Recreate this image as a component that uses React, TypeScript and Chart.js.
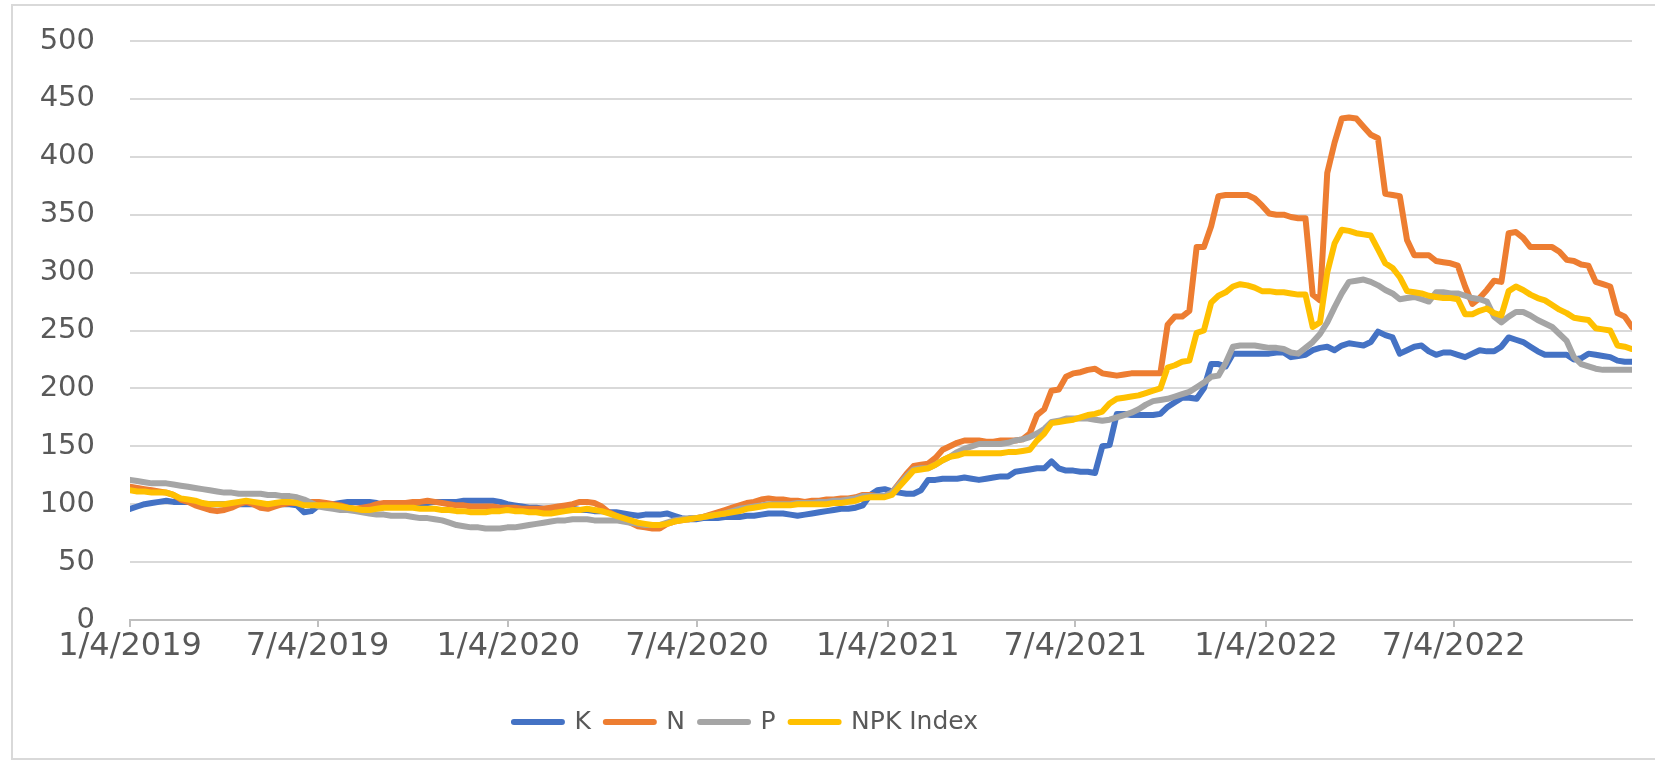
import React, { useEffect, useRef } from 'react';
import { Chart, registerables } from 'chart.js';

Chart.register(...registerables);

// ---- data ----
const seriesNames = ['K', 'N', 'P', 'NPK Index'];
const seriesColors = ['#4472C4', '#ED7D31', '#A5A5A5', '#FFC000'];
const startDate = '1/4/2019';
const tickLabels = ['1/4/2019', '7/4/2019', '1/4/2020', '7/4/2020', '1/4/2021', '7/4/2021', '1/4/2022', '7/4/2022'];
const yMin = 0;
const yMax = 500;
const yStep = 50;

// weekly observations, first week = 1/4/2019
const kValues = [
  96, 98, 100, 101, 102, 103, 102, 102, 102, 101,
  100, 100, 100, 100, 100, 100, 100, 100, 100, 100,
  100, 100, 100, 99, 93, 94, 99, 100, 100, 101,
  102, 102, 102, 102, 101, 99, 100, 100, 100, 100,
  101, 101, 102, 102, 102, 102, 103, 103, 103, 103,
  103, 102, 100, 99, 98, 97, 97, 96, 96, 96,
  96, 96, 95, 95, 94, 94, 93, 93, 92, 91,
  90, 91, 91, 91, 92, 90, 88, 87, 87, 88,
  88, 88, 89, 89, 89, 90, 90, 91, 92, 92,
  92, 91, 90, 91, 92, 93, 94, 95, 96, 96,
  97, 99, 108, 112, 113, 111, 110, 109, 109, 112,
  121, 121, 122, 122, 122, 123, 122, 121, 122, 123,
  124, 124, 128, 129, 130, 131, 131, 137, 131, 129,
  129, 128, 128, 127, 150, 151, 178, 178, 177, 177,
  177, 177, 178, 184, 188, 192, 192, 191, 200, 221,
  221, 219, 230, 230, 230, 230, 230, 230, 231, 231,
  227, 228, 229, 233, 235, 236, 233, 237, 239, 238,
  237, 240, 249, 246, 244, 230, 233, 236, 237, 232,
  229, 231, 231, 229, 227, 230, 233, 232, 232, 236,
  244, 242, 240, 236, 232, 229, 229, 229, 229, 225,
  226, 230, 229, 228, 227, 224, 223, 223,
];

const nValues = [
  115, 114, 113, 112, 111, 110, 108, 104, 102, 99,
  97, 95, 94, 95, 97, 100, 102, 100, 97, 96,
  98, 100, 101, 101, 102, 102, 102, 101, 100, 99,
  97, 96, 97, 98, 100, 101, 101, 101, 101, 102,
  102, 103, 102, 101, 100, 99, 99, 98, 98, 98,
  98, 97, 97, 97, 96, 96, 96, 96, 97, 98,
  99, 100, 102, 102, 101, 98, 93, 90, 87, 84,
  81, 80, 79, 79, 83, 85, 86, 87, 88, 89,
  91, 93, 95, 97, 99, 101, 102, 104, 105, 104,
  104, 103, 103, 102, 103, 103, 104, 104, 105, 105,
  106, 108, 108, 107, 107, 110, 118, 126, 133, 134,
  135, 140, 147, 150, 153, 155, 155, 155, 154, 154,
  155, 155, 155, 156, 161, 177, 182, 198, 199, 210,
  213, 214, 216, 217, 213, 212, 211, 212, 213, 213,
  213, 213, 213, 255, 262, 262, 267, 322, 322, 340,
  366, 367, 367, 367, 367, 364, 358, 351, 350, 350,
  348, 347, 347, 281, 276, 386, 412, 433, 434, 433,
  426, 419, 416, 368, 367, 366, 328, 315, 315, 315,
  310, 309, 308, 306, 288, 273, 278, 285, 293, 292,
  334, 335, 330, 322, 322, 322, 322, 318, 311, 310,
  307, 306, 292, 290, 288, 265, 262, 253,
];

const pValues = [
  121, 120, 119, 118, 118, 118, 117, 116, 115, 114,
  113, 112, 111, 110, 110, 109, 109, 109, 109, 108,
  108, 107, 107, 106, 104, 101, 98, 97, 96, 95,
  95, 94, 93, 92, 91, 91, 90, 90, 90, 89,
  88, 88, 87, 86, 84, 82, 81, 80, 80, 79,
  79, 79, 80, 80, 81, 82, 83, 84, 85, 86,
  86, 87, 87, 87, 86, 86, 86, 86, 85, 84,
  83, 82, 82, 82, 84, 86, 87, 88, 88, 89,
  90, 91, 92, 94, 96, 97, 98, 99, 100, 100,
  100, 100, 101, 101, 101, 102, 102, 103, 103, 104,
  105, 107, 107, 107, 107, 110, 117, 124, 130, 131,
  131, 134, 138, 141, 145, 148, 150, 152, 152, 152,
  152, 153, 155, 156, 158, 161, 165, 171, 172, 174,
  174, 174, 174, 173, 172, 173, 175, 177, 179, 182,
  186, 189, 190, 191, 193, 195, 197, 201, 205, 210,
  211, 222, 236, 237, 237, 237, 236, 235, 235, 234,
  231, 230, 235, 240, 247, 257, 270, 282, 292, 293,
  294, 292, 289, 285, 282, 277, 278, 279, 277, 275,
  283, 283, 282, 282, 280, 278, 277, 275, 262, 257,
  262, 266, 266, 263, 259, 256, 253, 247, 241, 227,
  221, 219, 217, 216, 216, 216, 216, 216,
];

const npkValues = [
  112, 111, 111, 110, 110, 110, 108, 105, 104, 103,
  101, 100, 100, 100, 101, 102, 103, 102, 101, 100,
  101, 102, 102, 101, 99, 99, 99, 99, 99, 98,
  97, 96, 95, 95, 96, 97, 97, 97, 97, 97,
  96, 96, 96, 95, 95, 94, 94, 93, 93, 93,
  94, 94, 95, 94, 94, 93, 93, 92, 92, 93,
  94, 95, 95, 96, 95, 94, 92, 90, 88, 86,
  84, 83, 82, 82, 83, 85, 86, 87, 88, 89,
  90, 91, 92, 93, 94, 96, 97, 98, 99, 99,
  99, 99, 100, 100, 100, 100, 100, 101, 101, 102,
  103, 105, 106, 106, 106, 108, 115, 122, 129, 130,
  131, 134, 138, 141, 142, 144, 144, 144, 144, 144,
  144, 145, 145, 146, 147, 155, 161, 170, 171, 172,
  173, 175, 177, 178, 180, 187, 191, 192, 193, 194,
  196, 198, 200, 218, 220, 223, 224, 248, 250, 274,
  280, 283, 288, 290, 289, 287, 284, 284, 283, 283,
  282, 281, 281, 253, 257, 300, 325, 337, 336, 334,
  333, 332, 320, 308, 304, 296, 284, 283, 282, 280,
  279, 278, 278, 277, 264, 264, 267, 269, 265, 263,
  284, 288, 285, 281, 278, 276, 272, 268, 265, 261,
  260, 259, 252, 251, 250, 237, 236, 234,
];

const seriesValues = [kValues, nValues, pValues, npkValues];

// ---- helpers ----
const parseDay = (s: string) => {
  const [m, d, y] = s.split('/').map(Number);
  return Date.UTC(y, m - 1, d) / 86400000;
};
const day0 = parseDay(startDate);
const weekOffsets = kValues.map((_, i) => i * 7); // days since first week
const tickDays = tickLabels.map((s) => parseDay(s) - day0);
const labelForDay: Record<number, string> = {};
tickLabels.forEach((s, i) => (labelForDay[tickDays[i]] = s));

const W = 1655;
const H = 764;
const FONT = "'DejaVu Sans', 'Liberation Sans', sans-serif";
const TEXT = '#595959';

const legendShift = {
  id: 'legendShift',
  afterLayout(chart: any) {
    const lg = chart.legend;
    if (!lg) return;
    const target = 746;
    const c = (lg.left + lg.right) / 2;
    const d = target - c;
    lg.left += d;
    lg.right += d;
  },
};

export default function App() {
  const ref = useRef<HTMLCanvasElement | null>(null);

  useEffect(() => {
    if (!ref.current) return;
    const chart = new Chart(ref.current, {
      type: 'line',
      data: {
        datasets: seriesNames.map((name, si) => ({
          label: name,
          data: seriesValues[si].map((v, i) => ({ x: weekOffsets[i], y: v })),
          borderColor: seriesColors[si],
          backgroundColor: seriesColors[si],
          borderWidth: 6,
          pointRadius: 0,
          tension: 0,
          borderCapStyle: 'round',
          borderJoinStyle: 'round',
          fill: false,
          order: seriesNames.length - si,
        })),
      },
      options: {
        responsive: false,
        animation: false,
        devicePixelRatio: 1,
        layout: { padding: { left: 0, right: W - 1632, top: 41, bottom: 19.5 } },
        plugins: {
          tooltip: { enabled: false },
          legend: {
            position: 'bottom',
            labels: {
              sort: (a: any, b: any) => a.datasetIndex - b.datasetIndex,
              boxWidth: 48,
              boxHeight: 0,
              padding: 15,
              color: TEXT,
              font: { family: FONT, size: 25 },
            },
          },
        },
        scales: {
          x: {
            type: 'linear',
            min: 0,
            max: weekOffsets[weekOffsets.length - 1],
            afterBuildTicks: (scale: any) => {
              scale.ticks = tickDays.map((v) => ({ value: v }));
            },
            afterFit: (scale: any) => {
              scale.height = 74.5;
            },
            ticks: {
              autoSkip: false,
              maxRotation: 0,
              minRotation: 0,
              padding: 0,
              color: TEXT,
              font: { family: FONT, size: 32 },
              callback: (v: any) => labelForDay[v as number] ?? '',
            },
            grid: {
              drawOnChartArea: false,
              drawTicks: true,
              tickLength: 7,
              color: '#bfbfbf',
              lineWidth: 2,
            },
            border: { display: true, color: '#bfbfbf', width: 2 },
          },
          y: {
            min: yMin,
            max: yMax,
            afterFit: (scale: any) => {
              scale.width = 130;
              scale.paddingTop = 0;
              scale.paddingBottom = 0;
            },
            ticks: {
              stepSize: yStep,
              padding: 35,
              color: TEXT,
              font: { family: FONT, size: 29 },
            },
            grid: { drawTicks: false, color: '#d9d9d9', lineWidth: 2 },
            border: { display: false },
          },
        },
      },
      plugins: [legendShift],
    });
    return () => chart.destroy();
  }, []);

  return (
    <div style={{ position: 'absolute', left: 0, top: 0, width: W, height: H, overflow: 'hidden', background: '#fff' }}>
      <div
        style={{
          position: 'absolute',
          left: 11,
          top: 4,
          width: W,
          height: 756,
          border: '2px solid #d9d9d9',
          boxSizing: 'border-box',
        }}
      />
      <canvas ref={ref} width={W} height={H} style={{ position: 'absolute', left: 0, top: 0 }} />
    </div>
  );
}
